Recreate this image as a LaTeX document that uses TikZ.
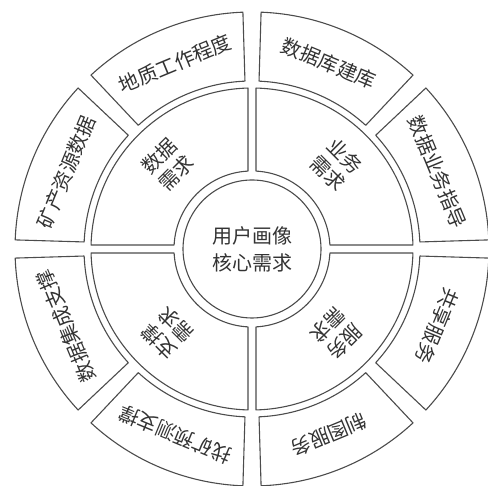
\documentclass[tikz,border=0pt]{standalone}
\usepackage{fontspec}
\setmainfont{Noto Sans CJK SC}
\begin{document}
\begin{tikzpicture}[x=1pt,y=1pt,
  seg/.style={draw=black!70, line width=1.1pt, fill=white, line join=round},
  lbl/.style={font=\fontsize{20}{26}\selectfont, text=black!80, align=center, inner sep=0pt},
  midlbl/.style={font=\fontsize{20}{24}\selectfont, text=black!80, align=center, inner sep=0pt}]
\useasboundingbox (0,0) rectangle (488,486);
\clip (0,0) rectangle (488,486);
\begin{scope}[shift={(252,237)}]
  % outer ring: eight segments
  \foreach \a in {0,45,...,315} {
    \draw[seg] ({\a+2.4}:168pt) -- ({\a+2.2}:237pt)
      arc[start angle={\a+2.2}, end angle={\a+45-2.2}, radius=237pt]
      -- ({\a+45-2.4}:168pt)
      arc[start angle={\a+45-2.4}, end angle={\a+2.4}, radius=168pt] -- cycle;
  }
  % middle ring: four quadrants
  \foreach \a in {0,90,180,270} {
    \draw[seg] ({\a+2.94}:78pt) -- ({\a+1.42}:161pt)
      arc[start angle={\a+1.42}, end angle={\a+90-1.42}, radius=161pt]
      -- ({\a+90-2.94}:78pt)
      arc[start angle={\a+90-2.94}, end angle={\a+2.94}, radius=78pt] -- cycle;
  }
  % centre circle
  \draw[seg] (0,0) circle[radius=69pt];
  \node[lbl, font=\fontsize{20}{27}\selectfont] (core) at (0,0) {用户画像\\核心需求};
  % middle labels
  \node[midlbl, rotate=45]  (m1) at (135:119pt) {数据\\需求};
  \node[midlbl, rotate=-45] (m2) at (45:119pt)  {业务\\需求};
  \node[midlbl, rotate=225] (m3) at (315:119pt) {服务\\需求};
  \node[midlbl, rotate=135] (m4) at (225:119pt) {支撑\\需求};
  % outer labels
  \node[lbl, rotate=22.5]  (o1) at (112.5:201pt) {地质工作程度};
  \node[lbl, rotate=-22.5] (o2) at (67.5:201pt)  {数据库建库};
  \node[lbl, rotate=-67.5] (o3) at (22.5:201pt)  {数据业务指导};
  \node[lbl, rotate=-112.5](o4) at (337.5:201pt) {共享服务};
  \node[lbl, rotate=202.5] (o5) at (292.5:201pt) {制图服务};
  \node[lbl, rotate=157.5] (o6) at (247.5:201pt) {找矿预测支撑};
  \node[lbl, rotate=112.5] (o7) at (202.5:201pt) {数据集成支撑};
  \node[lbl, rotate=67.5]  (o8) at (157.5:201pt) {矿产资源数据};
\end{scope}
\end{tikzpicture}
\end{document}
